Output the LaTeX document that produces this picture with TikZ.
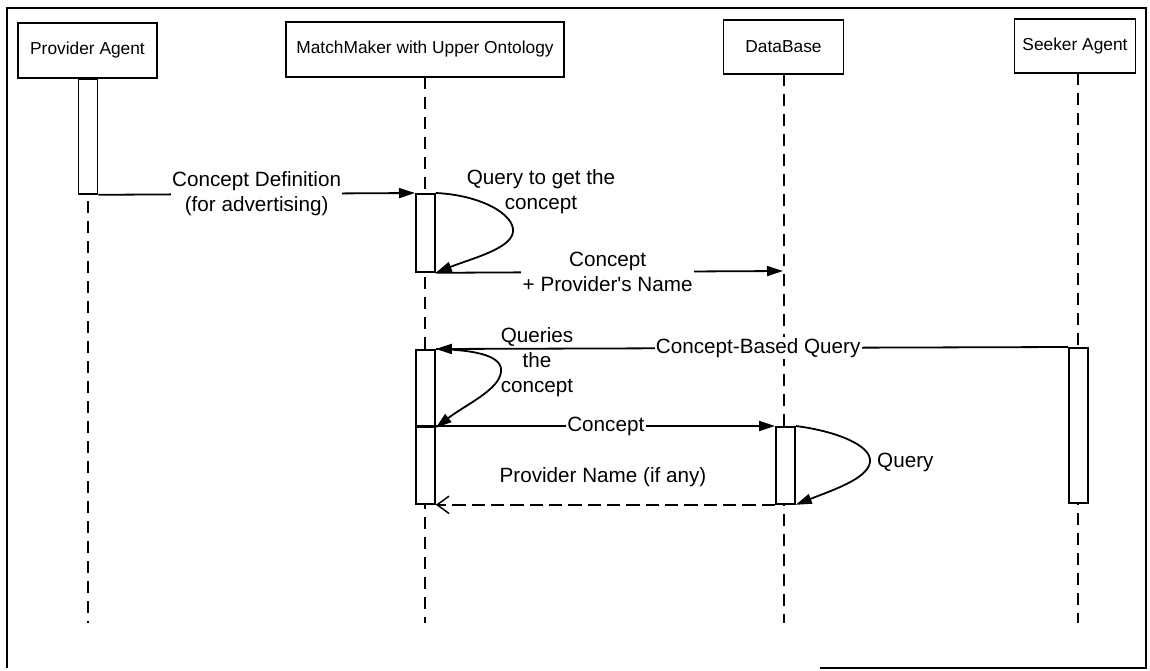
\documentclass[tikz,border=0pt]{standalone}
\usepackage{fontspec}
\setmainfont{Liberation Sans}
\usetikzlibrary{arrows.meta}
\begin{document}
\begin{tikzpicture}[x=0.75pt,y=-0.75pt,
  every path/.style={line width=1.35pt},
  actor/.style={draw,line width=1.35pt,fill=white,inner sep=0pt,
    font=\fontsize{13}{15.6}\selectfont},
  actbar/.style={draw,line width=1.35pt,fill=white,inner sep=0pt,
    minimum width=14.25pt,anchor=north west},
  lifeline/.style={line width=1.35pt,dash pattern=on 9pt off 6pt},
  msg/.style={line width=1.35pt,-{Triangle[length=12pt,width=7.5pt]}},
  reply/.style={line width=1.35pt,dash pattern=on 10pt off 4.5pt,
    -{Straight Barb[length=9pt,width=13pt,line width=1.1pt]}},
  lbl/.style={font=\fontsize{15.5}{18.6}\selectfont,align=center,inner sep=1pt},
  lblw/.style={lbl,fill=white}]
\useasboundingbox (0,0) rectangle (1150,671);
% frame
\draw[line width=1.35pt] (820,668) -- (1146,668) -- (1146,8) -- (7,8) -- (7,668);

% actors
\node[actor,minimum width=104.25pt,minimum height=41.25pt] (pa) at (87.5,50.5) {Provider Agent};
\node[actor,minimum width=208.5pt,minimum height=41.25pt] (mm) at (425,49.5) {MatchMaker with Upper Ontology};
\node[actor,minimum width=90pt,minimum height=40.5pt] (db) at (783.5,47) {DataBase};
\node[actor,minimum width=90.75pt,minimum height=40.5pt] (sa) at (1075,46) {Seeker Agent};

% lifeline ends
\coordinate (paS) at (88,201);
\coordinate (paE) at (88,623);
\coordinate (mmE) at (425,623);
\coordinate (dbE) at (784,623);
\coordinate (saE) at (1078,623);
\coordinate (mmS) at (425,77);
\coordinate (dbS) at (784,74);
\coordinate (saS) at (1078,73);

% activation bars
\node[actbar,minimum height=86.25pt] (pa1) at (77.5,78) {};
\draw[lifeline] (paS) -- (paE);
\draw[lifeline] (mmS) -- (mmE);
\draw[lifeline] (dbS) -- (dbE);
\draw[lifeline] (saS) -- (saE);
\node[actbar,minimum height=58.5pt] (mm1) at (415,193) {};
\node[actbar,minimum height=57.75pt] (mm2) at (415,349) {};
\node[actbar,minimum height=57.75pt] (mm3) at (415,426) {};
\node[actbar,minimum height=57.75pt] (db1) at (775,426) {};
\node[actbar,minimum height=116.25pt] (sa1) at (1068,347) {};

% DB lifeline point
\coordinate (dbm1) at (783,271);

% messages
\draw[msg] (pa1.south east) -- (mm1.north west)
  node[lblw,pos=0.5] {Concept Definition\\(for advertising)};
\draw[msg] (mm1.north east) .. controls (480,195) and (515,214) .. (513,232)
  .. controls (511,249) and (470,259) .. (mm1.south east);
\node[lbl] (q1) at (541,192) {Query to get the\\concept};
\draw[msg] (mm1.south east) -- (dbm1)
  node[lblw,pos=0.495] {Concept\\+ Provider\textquotesingle s Name};

\draw[msg] (sa1.north west) -- (mm2.north east)
  node[lblw,pos=0.49] {Concept-Based Query};
\draw[msg] (mm2.north east) .. controls (480,350) and (503,357) .. (501,372)
  .. controls (499,390) and (465,405) .. (mm2.south east);
\node[lbl] (q2) at (537,362) {Queries\\the\\concept};
\draw[msg] (mm3.north west) -- (db1.north west)
  node[lblw,pos=0.53] {Concept};
\draw[msg] (db1.north east) .. controls (835,431) and (872,445) .. (870,462)
  .. controls (868,479) and (830,491) .. (db1.south east);
\node[lbl,anchor=west] (q3) at (875,462) {Query};
\draw[reply] (db1.south west) -- (mm3.south east);
\node[lbl] (pn) at (603,477) {Provider Name (if any)};
\end{tikzpicture}
\end{document}
